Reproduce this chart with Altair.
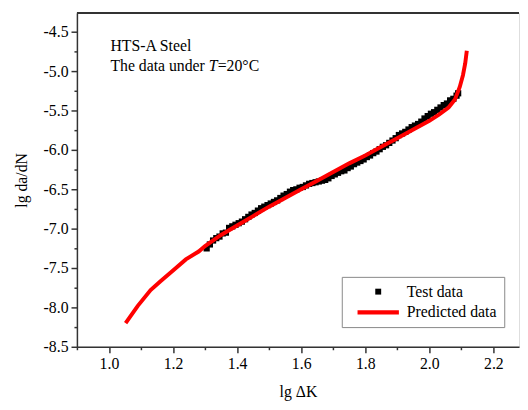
import altair as alt
import pandas as pd

# Test data (lg dK, lg da/dN)
test_x = [1.305, 1.315, 1.325, 1.335, 1.345, 1.355, 1.365, 1.375, 1.385, 1.395,
          1.405, 1.415, 1.425, 1.435, 1.445, 1.455, 1.465, 1.475, 1.485, 1.495,
          1.505, 1.515, 1.525, 1.535, 1.545, 1.555, 1.565, 1.575, 1.585, 1.595,
          1.605, 1.615, 1.625, 1.635, 1.645, 1.655, 1.665, 1.675, 1.685, 1.695,
          1.705, 1.715, 1.725, 1.735, 1.745, 1.755, 1.765, 1.775, 1.785, 1.795,
          1.805, 1.815, 1.825, 1.835, 1.845, 1.855, 1.865, 1.875, 1.885, 1.895,
          1.905, 1.915, 1.925, 1.935, 1.945, 1.955, 1.965, 1.975, 1.985, 1.995,
          2.005, 2.015, 2.025, 2.035, 2.045, 2.055, 2.065, 2.075, 2.085, 2.090]
test_y = [-7.25, -7.20, -7.15, -7.12, -7.10, -7.06, -7.05, -6.99, -6.97, -6.95,
          -6.93, -6.91, -6.88, -6.85, -6.82, -6.80, -6.77, -6.74, -6.72, -6.70,
          -6.68, -6.66, -6.64, -6.61, -6.58, -6.56, -6.53, -6.51, -6.50, -6.48,
          -6.47, -6.45, -6.43, -6.42, -6.41, -6.40, -6.39, -6.38, -6.36, -6.33,
          -6.31, -6.29, -6.27, -6.26, -6.23, -6.21, -6.18, -6.16, -6.14, -6.12,
          -6.09, -6.07, -6.04, -6.02, -5.99, -5.96, -5.94, -5.91, -5.88, -5.85,
          -5.81, -5.79, -5.77, -5.74, -5.71, -5.69, -5.67, -5.64, -5.60, -5.57,
          -5.54, -5.52, -5.49, -5.46, -5.43, -5.41, -5.37, -5.35, -5.31, -5.28]

# Predicted curve
pred_x = [1.052, 1.09, 1.13, 1.16, 1.20, 1.24, 1.28, 1.30, 1.35, 1.40, 1.45,
          1.50, 1.55, 1.60, 1.65, 1.70, 1.75, 1.80, 1.85, 1.90, 1.95, 2.00,
          2.03, 2.06, 2.08, 2.095, 2.105, 2.112, 2.117]
pred_y = [-8.20, -7.98, -7.78, -7.67, -7.53, -7.39, -7.29, -7.22, -7.08, -6.96,
          -6.84, -6.72, -6.61, -6.50, -6.39, -6.28, -6.17, -6.07, -5.96, -5.85,
          -5.74, -5.63, -5.55, -5.46, -5.36, -5.20, -5.05, -4.90, -4.74]

series_names = ["Test data", "Predicted data"]
x_major = [1.0, 1.2, 1.4, 1.6, 1.8, 2.0, 2.2]
x_minor = [0.9, 1.1, 1.3, 1.5, 1.7, 1.9, 2.1]
y_major = [-4.5, -5.0, -5.5, -6.0, -6.5, -7.0, -7.5, -8.0, -8.5]
y_minor = [-4.75, -5.25, -5.75, -6.25, -6.75, -7.25, -7.75, -8.25]

W, H = 449, 339
FONT = "Times New Roman, Liberation Serif, DejaVu Serif, serif"
AX = "#333333"

test_df = pd.DataFrame({"x": test_x, "y": test_y, "series": "Test data"})
pred_df = pd.DataFrame({"x": pred_x, "y": pred_y})

xs = alt.Scale(domain=[0.9, 2.28], nice=False, zero=False)
ys = alt.Scale(domain=[-8.5, -4.26], nice=False, zero=False)

lab = "replace(format(datum.value, '.1f'), '\u2212', '-')"

square_path = "M-1,-1H1V1H-1Z"
line_path = "M-7,-0.7H7V0.7H-7Z"

common_axis = dict(labelFont=FONT, labelFontSize=16, labelColor="black",
                   titleFont=FONT, titleFontSize=16, titleFontWeight="normal",
                   titleColor="black", domainColor=AX, domainWidth=1.5,
                   tickColor=AX, tickWidth=1.5, grid=False)

legend_kw = dict(title=None, labelFont=FONT, labelFontSize=16, labelColor="black")

points = alt.Chart(test_df).mark_point(filled=True, size=40, opacity=1).encode(
    x=alt.X("x:Q", scale=xs, axis=alt.Axis(
        values=x_major, labelExpr=lab, tickSize=6, labelPadding=3,
        title="lg ΔK", titlePadding=12, orient="bottom", **common_axis)),
    y=alt.Y("y:Q", scale=ys, axis=alt.Axis(
        values=y_major, labelExpr=lab, tickSize=6, labelPadding=3,
        title="lg da/dN", titlePadding=14, orient="left", **common_axis)),
    color=alt.Color("series:N", scale=alt.Scale(domain=series_names, range=["black", "red"]),
                    legend=alt.Legend(**legend_kw)),
    shape=alt.Shape("series:N", scale=alt.Scale(domain=series_names, range=[square_path, line_path]),
                    legend=alt.Legend(**legend_kw)),
)

line = alt.Chart(pred_df).mark_line(color="red", strokeWidth=4).encode(
    x=alt.X("x:Q", scale=xs, axis=alt.Axis(
        values=x_minor, labels=False, tickSize=3, domain=False, title=None,
        orient="bottom", tickColor=AX, tickWidth=1.5, grid=False)),
    y=alt.Y("y:Q", scale=ys, axis=alt.Axis(
        values=y_minor, labels=False, tickSize=3, domain=False, title=None,
        orient="left", tickColor=AX, tickWidth=1.5, grid=False)),
)

top_border = alt.Chart(pd.DataFrame({"a": [0]})).mark_rule(color=AX, strokeWidth=2).encode(
    x=alt.value(0), x2=alt.value(W), y=alt.value(0))

t1 = alt.Chart(pd.DataFrame({"t": ["HTS-A Steel"]})).mark_text(
    font=FONT, fontSize=16, align="left", baseline="alphabetic").encode(
    text="t:N", x=alt.value(34), y=alt.value(39))
t2 = alt.Chart(pd.DataFrame({"t": ["The data under "]})).mark_text(
    font=FONT, fontSize=16, align="left", baseline="alphabetic").encode(
    text="t:N", x=alt.value(34), y=alt.value(59))
t3 = alt.Chart(pd.DataFrame({"t": ["T"]})).mark_text(
    font=FONT, fontSize=16, fontStyle="italic", align="left", baseline="alphabetic").encode(
    text="t:N", x=alt.value(134), y=alt.value(59))
t4 = alt.Chart(pd.DataFrame({"t": ["=20°C"]})).mark_text(
    font=FONT, fontSize=16, align="left", baseline="alphabetic").encode(
    text="t:N", x=alt.value(143), y=alt.value(59))

chart = alt.layer(points, line, top_border, t1, t2, t3, t4).resolve_axis(
    x="independent", y="independent"
).properties(
    width=W, height=H,
    padding={"left": 5, "top": 1, "right": 0, "bottom": 0},
).configure_view(stroke=None).configure(
    font=FONT
).configure_legend(
    orient="none", legendX=269, legendY=268,
    strokeColor="#888888", fillColor="white", padding=7,
    symbolSize=36, symbolOffset=22, labelOffset=21, rowPadding=5,
    labelFont=FONT, labelFontSize=16, labelColor="black", symbolStrokeWidth=0,
)

chart.save("out.html", embed_options={"renderer": "svg", "actions": False})
